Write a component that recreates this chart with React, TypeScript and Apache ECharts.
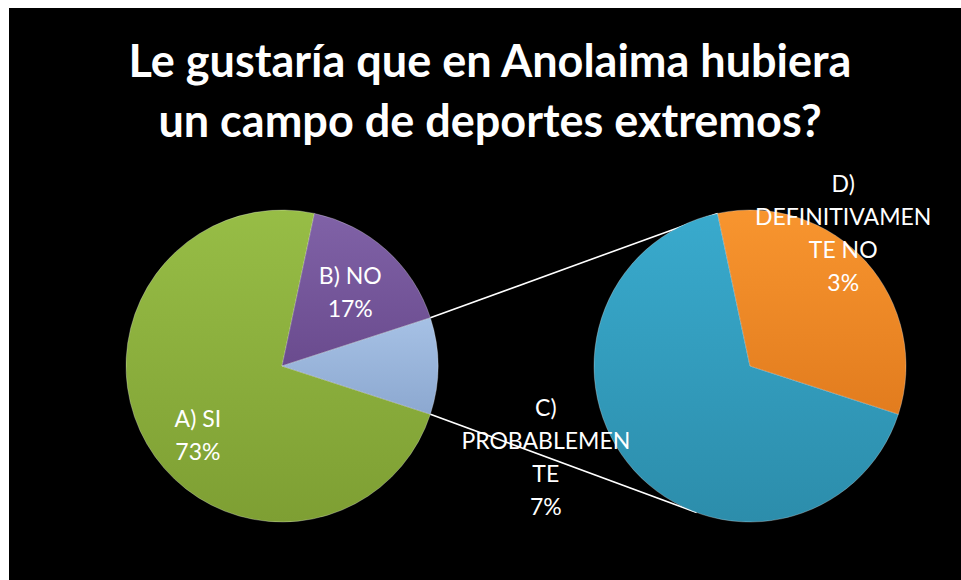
import React, { useEffect, useRef } from "react";
import * as echarts from "echarts";

const titleLines = ["Le gustaría que en Anolaima hubiera", "un campo de deportes extremos?"];
const mainNames = ["A) SI", "B) NO"];
const mainValues = [22, 5];
const mainLabels = ["A) SI", "B) NO"];
const subNames = ["C) PROBABLEMENTE", "D) DEFINITIVAMENTE NO"];
const subValues = [2, 1];
const subLabels = ["C)\nPROBABLEMEN\nTE", "D)\nDEFINITIVAMEN\nTE NO"];

const mainColors = [["#97bd46", "#7e9f33"], ["#8062a7", "#6a4b8e"], ["#a6c1e5", "#8ca8d0"]];
const subColors = [["#39aacd", "#2c8dab"], ["#f8952f", "#e27c1e"]];

// layout (container pixels)
const W = 952;
const H = 572;
const R = 156;
const LEFT_C = [273, 358];
const RIGHT_C = [741, 358];
const MAIN_START = 342;
const SUB_START = 342;
// label nudges from the default inside position
const mainNudge = [[-14, 28], [14, -14]];
const subNudge = [[-144, 36], [33, -79]];

const grad = (c: string[]) => ({
  type: "linear", x: 0, y: 0, x2: 0, y2: 1,
  colorStops: [{ offset: 0, color: c[0] }, { offset: 1, color: c[1] }],
});

export default function App() {
  const ref = useRef<HTMLDivElement>(null);
  useEffect(() => {
    const chart = echarts.init(ref.current!, null, { renderer: "svg" });
    const total = [...mainValues, ...subValues].reduce((a, b) => a + b, 0);
    const otherValue = subValues.reduce((a, b) => a + b, 0);
    const pct = (v: number) => Math.round((v / total) * 100) + "%";

    const mainData = mainNames.map((n, i) => ({
      name: n, value: mainValues[i],
      itemStyle: { color: grad(mainColors[i]) },
      label: { show: true, formatter: mainLabels[i] + "\n" + pct(mainValues[i]) },
    }));
    mainData.push({
      name: "Otros", value: otherValue,
      itemStyle: { color: grad(mainColors[2]) },
      label: { show: false, formatter: "" },
    });
    const subData = subNames.map((n, i) => ({
      name: n, value: subValues[i],
      itemStyle: { color: grad(subColors[i]) },
      label: { show: true, formatter: subLabels[i] + "\n" + pct(subValues[i]) },
    }));

    // connector lines: edges of "other" slice to secondary pie
    const rad = (d: number) => (d * Math.PI) / 180;
    const otherFrac = otherValue / total;
    const otherStart = MAIN_START - 360 * (1 - otherFrac);
    const p1 = [LEFT_C[0] + R * Math.cos(rad(otherStart)), LEFT_C[1] - R * Math.sin(rad(otherStart))];
    const p2 = [LEFT_C[0] + R * Math.cos(rad(MAIN_START)), LEFT_C[1] - R * Math.sin(rad(MAIN_START))];
    const subBoundary = SUB_START - 360 * (subValues[0] / otherValue);
    const q1 = [RIGHT_C[0] + R * Math.cos(rad(subBoundary)), RIGHT_C[1] - R * Math.sin(rad(subBoundary))];
    const lowAng = -110;
    const q2 = [RIGHT_C[0] + R * Math.cos(rad(lowAng)), RIGHT_C[1] - R * Math.sin(rad(lowAng))];

    const labelStyle = {
      color: "#ffffff", fontFamily: "Lato", fontSize: 23, lineHeight: 33,
      position: "inside", align: "center", verticalAlign: "middle",
    };
    const itemBase = { borderColor: "rgba(255,255,255,0.28)", borderWidth: 1 };

    chart.setOption({
      animation: false,
      backgroundColor: "#000000",
      title: {
        text: titleLines.join("\n"),
        left: 481, top: 22, padding: 0, textAlign: "center",
        textStyle: { color: "#ffffff", fontFamily: "Lato", fontWeight: "bold", fontSize: 45, lineHeight: 60 },
      },
      graphic: [
        { type: "line", z: 0, shape: { x1: p1[0], y1: p1[1], x2: q1[0], y2: q1[1] }, style: { stroke: "#ffffff", lineWidth: 1.6 } },
        { type: "line", z: 0, shape: { x1: p2[0], y1: p2[1], x2: q2[0], y2: q2[1] }, style: { stroke: "#ffffff", lineWidth: 1.6 } },
      ],
      series: [
        {
          type: "pie", center: LEFT_C, radius: [0, R], startAngle: MAIN_START, clockwise: true,
          data: mainData, itemStyle: itemBase, label: labelStyle, labelLine: { show: false },
          emphasis: { disabled: true },
          labelLayout: (p: any) => ({ dx: (mainNudge[p.dataIndex] || [0, 0])[0], dy: (mainNudge[p.dataIndex] || [0, 0])[1] }),
        },
        {
          type: "pie", center: RIGHT_C, radius: [0, R], startAngle: SUB_START, clockwise: true,
          data: subData, itemStyle: itemBase, label: labelStyle, labelLine: { show: false },
          emphasis: { disabled: true },
          labelLayout: (p: any) => ({ dx: subNudge[p.dataIndex][0], dy: subNudge[p.dataIndex][1] }),
        },
      ],
    });
    return () => chart.dispose();
  }, []);
  return <div ref={ref} style={{ position: "fixed", left: 9, top: 8, width: W, height: H }} />;
}
